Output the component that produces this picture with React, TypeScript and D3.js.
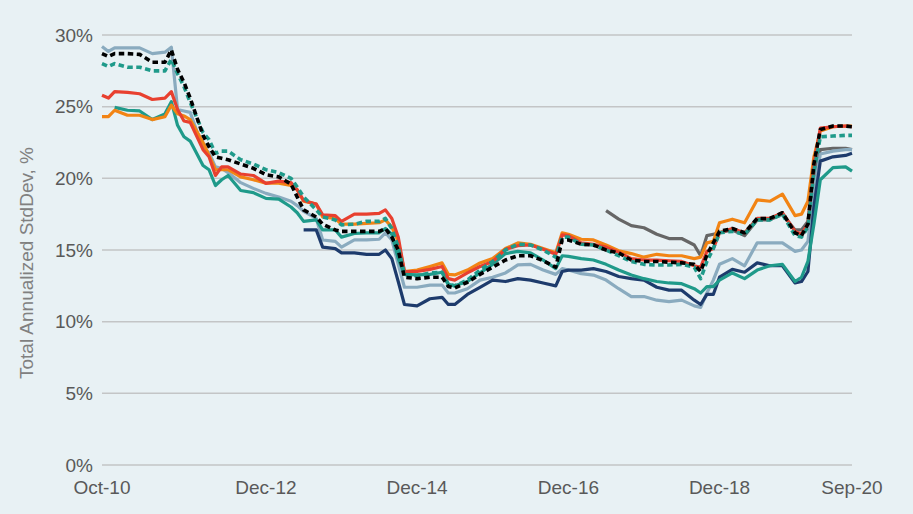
import * as d3 from "d3";

// month offsets from Oct-2010 (Oct-10 = 0)
const monthOffsets = [
  0, 1, 2, 4, 6, 8, 10, 11, 12, 13,
  14, 16, 17, 18, 19, 20, 22, 24, 26, 28,
  30, 31, 32, 34, 35, 37, 38, 40, 42, 44,
  45, 46, 47, 48, 50, 52, 54, 55, 56, 58,
  60, 62, 64, 66, 68, 70, 72, 73, 74, 76,
  78, 80, 82, 84, 86, 88, 90, 92, 94, 95,
  96, 97, 98, 100, 102, 104, 106, 108, 110, 111,
  112, 113, 114, 116, 118, 119,
];

const none = (n: number) => Array(n).fill(null);

const steelBlue = [
  29.2, 28.85, 29.1, 29.1, 29.1, 28.7, 28.8, 29.15, 24.8, 24.7,
  24.6, 22.1, 21.8, 20.8, 20.7, 20.4, 19.7, 19.3, 18.95, 18.7,
  18.4, 18.1, 17.7, 17.2, 15.7, 15.6, 15.2, 15.7, 15.7, 15.75,
  16.2, 15.7, 14.0, 12.4, 12.4, 12.55, 12.55, 12.0, 12.0, 12.3,
  12.9, 13.1, 13.4, 13.96, 14.0, 13.6, 13.3, 13.7, 13.6, 13.35,
  13.25, 12.9, 12.3, 11.75, 11.75, 11.5, 11.4, 11.5, 11.1, 11.0,
  12.0, 12.9, 14.0, 14.4, 13.9, 15.5, 15.5, 15.5, 14.9, 15.0,
  15.6, 19.0, 21.7, 21.9, 22.0, 22.0,
];

const navy = [
  ...none(22),
  16.4, 16.4, 15.2, 15.1, 14.8, 14.8, 14.7, 14.7,
  15.0, 14.4, 12.8, 11.2, 11.1, 11.6, 11.7, 11.2, 11.2, 11.9,
  12.4, 12.9, 12.8, 13.0, 12.9, 12.7, 12.5, 13.5, 13.6, 13.6,
  13.7, 13.5, 13.15, 13.0, 12.9, 12.4, 12.2, 12.2, 11.5, 11.2,
  11.9, 11.9, 13.1, 13.65, 13.45, 14.1, 13.9, 13.9, 12.7, 12.8,
  13.5, 18.0, 21.2, 21.5, 21.6, 21.75,
];

const teal = [
  null, null, 24.95, 24.75, 24.7, 24.1, 24.5, 25.35, 23.7, 22.9,
  22.6, 20.9, 20.6, 19.5, 19.9, 20.2, 19.15, 19.0, 18.6, 18.55,
  18.0, 17.6, 17.0, 17.1, 16.4, 16.4, 15.9, 16.15, 16.2, 16.2,
  16.5, 16.1, 14.4, 13.3, 13.26, 13.3, 13.45, 12.6, 12.5, 12.8,
  13.4, 14.0, 14.75, 14.9, 14.8, 14.3, 13.7, 14.6, 14.55, 14.4,
  14.3, 14.0, 13.6, 13.25, 13.0, 12.8, 12.7, 12.65, 12.3, 12.0,
  12.45, 12.45, 12.9, 13.4, 13.0, 13.6, 13.9, 14.0, 12.8, 13.1,
  14.2, 16.8, 19.9, 20.75, 20.8, 20.5,
];

const red = [
  25.8, 25.6, 26.05, 26.0, 25.9, 25.5, 25.6, 26.05, 24.8, 24.0,
  23.9, 22.0, 21.5, 20.2, 20.8, 20.8, 20.3, 20.2, 19.65, 19.8,
  19.7, 19.2, 18.45, 18.2, 17.45, 17.4, 17.0, 17.5, 17.5, 17.55,
  17.8, 17.2, 15.9, 13.5, 13.5, 13.65, 13.85, 13.0, 12.9, 13.4,
  13.85, 14.2, 15.05, 15.3, 15.35, 15.05, 14.7, 16.05, 16.0, 15.5,
  15.4, 15.2, 14.85, 14.4, 14.3, 14.3, 14.25, 14.2, 13.9, 13.8,
  14.9, 15.1, 16.2, 16.5, 16.2, 17.2, 17.2, 17.6, 16.3, 16.1,
  16.8, 21.0, 23.5, 23.6, 23.65, 23.6,
];

const orange = [
  24.3, 24.3, 24.75, 24.4, 24.4, 24.1, 24.3, 25.1, 24.5, 24.35,
  24.1, 22.5, 21.6, 20.6, 20.6, 20.6, 20.1, 19.9, 19.66, 19.66,
  19.5, 19.2, 18.4, 18.2, 17.3, 17.2, 16.8, 16.8, 16.86, 16.9,
  17.1, 16.6, 15.6, 13.5, 13.6, 13.85, 14.1, 13.3, 13.26, 13.6,
  14.1, 14.4, 15.1, 15.5, 15.4, 15.1, 14.8, 16.2, 16.1, 15.75,
  15.7, 15.35, 14.95, 14.75, 14.5, 14.7, 14.6, 14.6, 14.4, 14.5,
  15.5, 15.6, 16.9, 17.15, 16.9, 18.5, 18.4, 18.9, 17.4, 17.5,
  18.4, 21.5, 23.3, 23.6, 23.65, 23.65,
];

const blackDotted = [
  28.7, 28.5, 28.7, 28.7, 28.65, 28.1, 28.1, 28.96, 27.6, 26.7,
  25.6, 23.0, 22.2, 21.5, 21.4, 21.3, 21.0, 20.7, 20.25, 20.1,
  19.6, 18.7, 17.8, 17.3, 16.8, 16.4, 16.3, 16.3, 16.3, 16.3,
  16.5, 15.9, 15.0, 13.1, 13.0, 13.1, 13.1, 12.45, 12.35, 12.75,
  13.3, 13.8, 14.3, 14.6, 14.6, 14.25, 13.8, 15.7, 15.7, 15.4,
  15.35, 15.0, 14.8, 14.3, 14.2, 14.2, 14.15, 14.1, 14.0, 13.5,
  14.65, 15.5, 16.3, 16.5, 16.2, 17.2, 17.2, 17.6, 16.2, 16.0,
  16.8, 21.0, 23.4, 23.65, 23.65, 23.6,
];

const tealDotted = [
  28.0, 27.8, 28.0, 27.75, 27.75, 27.5, 27.5, 28.3, 27.3, 26.4,
  25.3, 23.2, 22.7, 21.75, 21.9, 21.9, 21.3, 21.0, 20.6, 20.4,
  20.0, 19.4, 18.7, 17.8, 17.3, 17.1, 16.75, 16.8, 17.0, 17.0,
  17.2, 16.5, 15.2, 13.3, 13.2, 13.4, 13.45, 12.6, 12.5, 12.9,
  13.6, 14.2, 15.0, 15.4, 15.35, 15.0, 14.5, 15.9, 15.9, 15.4,
  15.35, 15.0, 14.6, 14.2, 14.0, 13.95, 13.96, 14.0, 13.8, 13.0,
  14.2, 15.1, 16.2, 16.3, 16.1, 17.1, 17.1, 17.5, 16.0, 15.9,
  16.6, 20.5, 22.9, 22.95, 23.0, 23.0,
];

const gray = [
  ...none(51),
  17.75, 17.15, 16.7, 16.55, 16.1, 15.8, 15.8, 15.35, 14.6,
  16.0, 16.1, 16.2, 16.4, 16.0, 17.1, 17.1, 17.5, 16.4, 16.4,
  17.0, 20.0, 22.0, 22.1, 22.1, 22.0,
];

const yTicks = [0, 5, 10, 15, 20, 25, 30];
const xTickOffsets = [0, 26, 50, 74, 98, 119];
const xTickLabels = ["Oct-10", "Dec-12", "Dec-14", "Dec-16", "Dec-18", "Sep-20"];

// drawn in this order (last on top)
const seriesList = [
  { name: "gray", values: gray, color: "#666666", dash: null },
  { name: "steelBlue", values: steelBlue, color: "#8aabbf", dash: null },
  { name: "navy", values: navy, color: "#1d3b6c", dash: null },
  { name: "teal", values: teal, color: "#1f9a8a", dash: null },
  { name: "orange", values: orange, color: "#f28414", dash: null },
  { name: "red", values: red, color: "#e8402f", dash: null },
  { name: "tealDotted", values: tealDotted, color: "#1f9a8a", dash: "5.5,3.5" },
  { name: "blackDotted", values: blackDotted, color: "#000000", dash: "5.5,3.5" },
];

const toDate = (m: number) => new Date(2010, 9 + m, 1);

const W = 913;
const H = 514;
const margin = { left: 102, right: 61, top: 35, bottom: 49 };

const App = () => {
  const x = d3
    .scaleTime()
    .domain([toDate(0), toDate(119)])
    .range([margin.left, W - margin.right]);
  const y = d3
    .scaleLinear()
    .domain([0, 30])
    .range([H - margin.bottom, margin.top]);

  const line = d3
    .line<[number, number | null]>()
    .defined((d) => d[1] != null)
    .x((d) => x(toDate(d[0])))
    .y((d) => y(d[1] as number));

  const font = "'Liberation Sans', Arial, sans-serif";

  return (
    <svg
      width={W}
      height={H}
      style={{ position: "absolute", left: 0, top: 0, display: "block" }}
    >
      <rect width={W} height={H} fill="#e8f1f4" />

      {yTicks.map((t) => (
        <g key={t}>
          <line
            x1={margin.left}
            x2={W - margin.right}
            y1={y(t)}
            y2={y(t)}
            stroke="#c3c5c6"
            strokeWidth={1.5}
          />
          <text
            x={93}
            y={y(t)}
            dy="0.35em"
            textAnchor="end"
            fontFamily={font}
            fontSize={19}
            fill="#595959"
          >
            {t}%
          </text>
        </g>
      ))}

      {xTickOffsets.map((m, i) => (
        <text
          key={m}
          x={x(toDate(m))}
          y={494}
          textAnchor="middle"
          fontFamily={font}
          fontSize={19}
          fill="#595959"
        >
          {xTickLabels[i]}
        </text>
      ))}

      <text
        transform="translate(33,263) rotate(-90)"
        textAnchor="middle"
        fontFamily={font}
        fontSize={19}
        fill="#808080"
      >
        Total Annualized StdDev, %
      </text>

      {seriesList.map((s) => (
        <path
          key={s.name}
          d={line(monthOffsets.map((m, i) => [m, s.values[i]]) as any) || ""}
          fill="none"
          stroke={s.color}
          strokeWidth={s.dash ? 3.6 : 3.2}
          strokeDasharray={s.dash || undefined}
          strokeLinejoin="round"
        />
      ))}
    </svg>
  );
};

export default App;
